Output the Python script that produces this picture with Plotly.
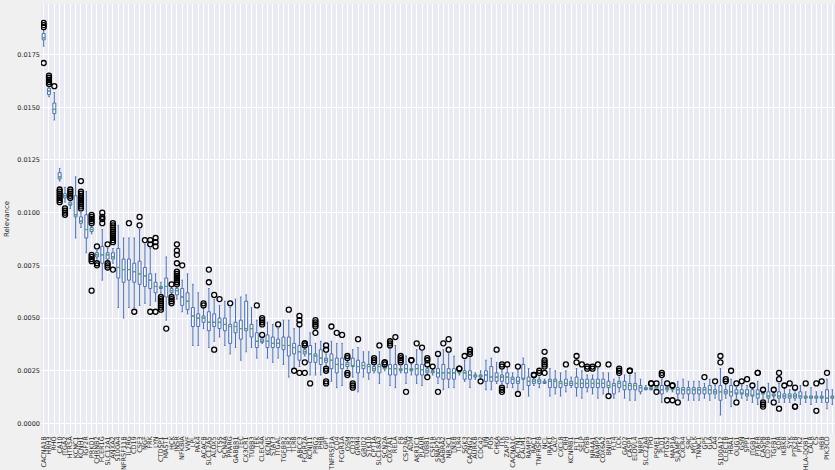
import plotly.graph_objects as go

genes = [
    "CACNA1B", "HRH3", "RHO", "CA10", "ITGA2", "HTR5A", "KCNC1", "KCNH1", "IGF2R", "PRKD1",
    "CHRNB2", "FCER1G", "SLC12A1", "ANXA2", "S100A4", "TNFRSF11B", "IL2RG", "CD19", "CSF3", "NGF",
    "FRK", "LYN", "CTDSP1", "MAST1", "HCK", "INSR", "NFKBIA", "VWF", "LPL", "PAK4",
    "ACACB", "SLC12A5", "ALOX5", "CTSS", "SCN4A", "PPARG", "GABBR1", "TEC", "CX3CR1", "TUBB3",
    "TEK", "CLEC4A", "KCNJ5", "STAT3", "ITGAL", "TGFBR2", "TLR2", "TLR8", "ABCC3", "FCGR2A",
    "KCNJ11", "PRG2", "PHB", "GPT", "TNFRSF1A", "CD4", "FCGR1A", "OSM", "CD33", "GRM4",
    "GRID2", "STK10", "CPT1A", "SLC18A3", "SCN2A", "COX7A1", "RELA", "F8", "CSF2RA", "ADM",
    "AKR1C1", "PLAUR", "TUBB1", "CSF1R", "SNAP25", "GABRA2", "NR3C1", "TNXB", "TLR4", "SGK3",
    "CACNG2", "AURKB", "CDC42", "JUN", "FOS", "CHKA", "ITK", "ZAP70", "CACNA1C", "ACTN1",
    "CALM1", "RAMP3", "RAC1", "TNFRSF8", "NCL", "IRAK1", "CALY", "CXCL8", "CRH", "KCNMB1",
    "FLT1", "SELP", "CYBB", "NR4A1", "RAMP2", "COX6A2", "BNIP1", "FLT4", "LCK", "GAD2",
    "CASP1", "ELOVL4", "NRP1", "SLC22A4", "TPO", "PSME1", "PLD1", "PTGS2", "MAP1A", "SLAMF7",
    "CXCR4", "SRC", "MYLK", "TNNC1", "GP5", "GLA", "CA4", "S100A12", "CLEC1B", "HBA1",
    "OLIG1", "GSN", "SPP1", "ITGB1", "PTAFR", "CASP8", "CD79B", "TGFB1", "KDR", "IKBKB",
    "SYK", "PTK2B", "PTK2", "HLA-DQB1", "CALR", "CS", "HBB", "PIK3CD", "CAMK2A",
]

median = [
    .0183, .01577, .0149, .0117, .0108, .0104, .0099, .0096, .0092, .0092,
    .0080, .0080, .0080, .0079, .0074, .0073, .0073, .0072, .0071, .0070,
    .0068, .0065, .00645, .0065, .0063, .0063, .0060, .0058, .0051, .0050,
    .0050, .0048, .0048, .0048, .0047, .0046, .0046, .0045, .0045, .0045,
    .0039, .0039, .0039, .0038, .0038, .0037, .0037, .0036, .0034, .0034,
    .0033, .0032, .0031, .0030, .0030, .0028, .0028, .0028, .00275, .0027,
    .00275, .0027, .0026, .0027, .0026, .0026, .0026, .0026, .0026, .0026,
    .0026, .00255, .0025, .0025, .0024, .0024, .0024, .0024, .0024, .0024,
    .0023, .0023, .0023, .0023, .0022, .0022, .0022, .0022, .0021, .0020,
    .0021, .0020, .0020, .0020, .0020, .0020, .0020, .0019, .0019, .0019,
    .0019, .0019, .0019, .0019, .0019, .0019, .0018, .0018, .0019, .0018,
    .0018, .0018, .0017, .0017, .0017, .0017, .0016, .0016, .0016, .0016,
    .0016, .0016, .0016, .0016, .0016, .0016, .0015, .0015, .0015, .0015,
    .0014, .0014, .0014, .0013, .0014, .0014, .0013, .0013, .0013, .0013,
    .0013, .0013, .0013, .0012, .0012, .0012, .0012, .0012, .0012,
]

q1 = [
    .0182, .0156, .0147, .0116, .0107, .01035, .0098, .0095, .0088, .0091,
    .0079, .0076, .0078, .0078, .0069, .0067, .0068, .0067, .0066, .0065,
    .0064, .0062, .0064, .0060, .0062, .0061, .0056, .0054, .0046, .0046,
    .0048, .0044, .0046, .0045, .0044, .0038, .0043, .0040, .0044, .0041,
    .0036, .00385, .0036, .0036, .0036, .0035, .0032, .0033, .0030, .0033,
    .0029, .0029, .0028, .0029, .0026, .0024, .0026, .0027, .0027, .0024,
    .0026, .0024, .0025, .0024, .0026, .0023, .0023, .0025, .0024, .0025,
    .0023, .0023, .0024, .0024, .0022, .0021, .0021, .0021, .0024, .0021,
    .0021, .0022, .0022, .0020, .0020, .0020, .0020, .0019, .0019, .0019,
    .0021, .0018, .0019, .0019, .0019, .0017, .0017, .0017, .0018, .0018,
    .0017, .0017, .0017, .0017, .0017, .0017, .0017, .0014, .0017, .0016,
    .0016, .0016, .0015, .0016, .0016, .0016, .0014, .0016, .0016, .0014,
    .0014, .0014, .0014, .0014, .0014, .0014, .0014, .0011, .0014, .0013,
    .0014, .0014, .0013, .0013, .0012, .0014, .0012, .0013, .0012, .0012,
    .0012, .0012, .0012, .0012, .0012, .0012, .0012, .0010, .0012,
]

q3 = [
    .0185, .0159, .0152, .0119, .0109, .0105, .0108, .0098, .0099, .0093,
    .0081, .0084, .0081, .0081, .0083, .0078, .0078, .0076, .0077, .0074,
    .0071, .0067, .0065, .0069, .0064, .0064, .0064, .0062, .0055, .0052,
    .0051, .0053, .0052, .0050, .0050, .0047, .0048, .0049, .0058, .0047,
    .0043, .0040, .0042, .0041, .0040, .0041, .0041, .0038, .0037, .0035,
    .0037, .0033, .0035, .0031, .0033, .0031, .0031, .0029, .0031, .0030,
    .0029, .0028, .0027, .0028, .0027, .0028, .0028, .0026, .0028, .0026,
    .0028, .0028, .0026, .0025, .0026, .0028, .0026, .0026, .0025, .0025,
    .0025, .0023, .0023, .0025, .0027, .0024, .0023, .0024, .0022, .0022,
    .0028, .0022, .0021, .0021, .0020, .0021, .0021, .0020, .0021, .0020,
    .0022, .0021, .0021, .0021, .0021, .0021, .0020, .0019, .0020, .0020,
    .0019, .0019, .0018, .0017, .0017, .0018, .0018, .0017, .0017, .0017,
    .0017, .0017, .0017, .0017, .0017, .0018, .0016, .0018, .0016, .0018,
    .0016, .0016, .0016, .0016, .0016, .0015, .0015, .0014, .0015, .0014,
    .0014, .0014, .0015, .0013, .0013, .0013, .0013, .0016, .0013,
]

whisker_low = [
    .0179, .0155, .0144, .0115, .0105, .0102, .0088, .0093, .0081, .0090,
    .0078, .0068, .0077, .0076, .0055, .0050, .0055, .0055, .0056, .0057,
    .0056, .0058, .0062, .0049, .0061, .0059, .0053, .0052, .0037, .0037,
    .0045, .0036, .0039, .0041, .0037, .0033, .0036, .0030, .0034, .0036,
    .0031, .0038, .0031, .0029, .0031, .0028, .0022, .0026, .0027, .0032,
    .0023, .0023, .0023, .0027, .0020, .0017, .0018, .0026, .0022, .0015,
    .0022, .0021, .0024, .0019, .0025, .0018, .0017, .0024, .0019, .0023,
    .0019, .0018, .0023, .0023, .0019, .0016, .0017, .0017, .0023, .0020,
    .0017, .0021, .0021, .0016, .0016, .0019, .0019, .0017, .0017, .0015,
    .0016, .0013, .0018, .0017, .0019, .0013, .0014, .0013, .0015, .0017,
    .0013, .0012, .0015, .0014, .0012, .0014, .0014, .0012, .0015, .0012,
    .0011, .0011, .0014, .0016, .0016, .0016, .0010, .0015, .0015, .0012,
    .0012, .0011, .0011, .0011, .0012, .0011, .0012, .0004, .0012, .0008,
    .0012, .0012, .0011, .0010, .0009, .0012, .0010, .0012, .0010, .0010,
    .0010, .0011, .0009, .0010, .0009, .0010, .0010, .0007, .0009,
]

whisker_high = [
    .0187, .0160, .0157, .0121, .0112, .0106, .0117, .0100, .0110, .0094,
    .0082, .0092, .0083, .0083, .0094, .0088, .0088, .0088, .0092, .0085,
    .0083, .0071, .0067, .0079, .0065, .0065, .0068, .0071, .0066, .0062,
    .0055, .0064, .0059, .0056, .0058, .0055, .0059, .0060, .0061, .0055,
    .0049, .0041, .0048, .0047, .0045, .0049, .0049, .0045, .0046, .0036,
    .0043, .0038, .0039, .0033, .0039, .0038, .0038, .0030, .0035, .0036,
    .0034, .0034, .0028, .0034, .0027, .0036, .0037, .0027, .0032, .0028,
    .0035, .0034, .0027, .0026, .0032, .0035, .0033, .0032, .0025, .0030,
    .0032, .0024, .0025, .0030, .0031, .0029, .0025, .0027, .0024, .0025,
    .0031, .0026, .0022, .0022, .0021, .0026, .0025, .0024, .0025, .0022,
    .0026, .0025, .0023, .0023, .0026, .0024, .0024, .0021, .0022, .0023,
    .0023, .0024, .0021, .0018, .0018, .0018, .0021, .0018, .0017, .0020,
    .0021, .0020, .0020, .0020, .0019, .0021, .0018, .0026, .0019, .0021,
    .0017, .0018, .0018, .0017, .0020, .0015, .0019, .0015, .0019, .0017,
    .0016, .0016, .0018, .0015, .0017, .0015, .0015, .0021, .0016,
]

outliers = [
    [.0171, .0188, .0189, .0190], [.0161, .0162, .0163, .0164, .0165], [.0160],
    [.0105, .0106, .0107, .0108, .0109, .0110, .0111], [.0099, .0100, .0101, .0102],
    [.0107, .0108, .0109, .0110, .0111], [],
    [.0102, .0103, .0104, .0105, .0106, .0107, .0108, .0109, .0110, .0115], [],
    [.0095, .0096, .0097, .0098, .0099, .0077, .0078, .0079, .0080, .0063],
    # 11-20
    [.0084, .0076, .0075], [.0095, .0097, .0098, .0100], [.0085, .0076, .0075, .0074],
    [.0086, .0087, .0088, .0089, .0090, .0091, .0092, .0093, .0094, .0095, .0073],
    [], [], [.0095], [.0053], [.0094, .0098], [.0087],
    # 21-30
    [.0085, .0087, .0053], [.0084, .0086, .0088, .0053],
    [.0054, .0055, .0056, .0057, .0058, .0059, .0060], [.0045],
    [.0066, .0057, .0058, .0059, .0060],
    [.0066, .0067, .0068, .0069, .0070, .0071, .0072, .0076, .0080, .0082, .0085],
    [.0075], [], [], [],
    # 31-40
    [.0056, .0057], [.0067, .0073], [.0061, .0035], [.0059], [], [.0057], [], [], [], [],
    # 41-50
    [.0056], [.0042, .0047, .0048, .0049, .0050], [], [], [.0047], [], [.0054], [.0025],
    [.0047, .0049, .0051, .0024], [.0037, .0038, .0038, .0029, .0024],
    # 51-60
    [.0019], [.0043, .0046, .0047, .0048, .0049], [], [.0035, .0037, .0025, .0026, .0019, .0020],
    [.0046], [.0043], [.0042], [.0031, .0032, .0023, .0024], [.0017, .0018, .0019], [.0040],
    # 61-70
    [], [], [.0029, .0030, .0031], [.0037], [.0028, .0029, .0029], [.0037, .0038, .0039],
    [.0041], [.0029, .0030, .0031, .0032], [.0015], [.0030, .0030],
    # 71-80
    [.0038], [.0036], [.0028, .0030, .0031, .0022], [.0027], [.0033, .0015], [.0038],
    [.0035, .0040], [], [.0026, .0026], [.0032],
    # 81-90
    [.0033, .0034, .0035], [], [.0020], [], [], [.0035], [.0027, .0028, .0017, .0015, .0016],
    [.0028], [], [.0027, .0014],
    # 91-100
    [], [], [.0023, .0023], [.0024, .0025], [.0024, .0027, .0028, .0029, .0030, .0034],
    [], [], [], [.0028], [],
    # 101-110
    [.0029, .0032], [.0028], [.0026, .0027], [.0026, .0027], [.0028], [], [.0028, .0013],
    [], [.0024, .0025, .0026], [],
    # 111-120
    [.0025, .0025], [], [], [], [.0019, .0019], [.0019, .0015], [.0023, .0024],
    [.0019, .0011], [.0018, .0018, .0011], [.0010],
    # 121-130
    [], [], [], [], [.0022], [], [.0020], [.0029, .0032], [.0020, .0021], [.0025],
    # 131-140
    [.0019, .0010], [.0020], [.0021], [.0018], [.0024, .0024], [.0016, .0008, .0009, .0010],
    [], [.0016, .0010], [.0021, .0024, .0007], [.0018],
    # 141-149
    [.0019], [.0017, .0008, .0008], [], [.0019], [], [.0019, .0006], [.0020], [.0024], [],
]

y_ticks = [0.0, 0.0025, 0.005, 0.0075, 0.01, 0.0125, 0.015, 0.0175]

n = len(genes)
pos = list(range(1, n + 1))

fig = go.Figure()

fig.add_trace(go.Box(
    x=pos, q1=q1, median=median, q3=q3,
    lowerfence=whisker_low, upperfence=whisker_high,
    width=0.55, whiskerwidth=0.5, boxpoints=False,
    line=dict(color="#4C72B0", width=1),
    fillcolor="rgba(0,0,0,0)", showlegend=False, hoverinfo="skip",
))

mx, my = [], []
for p, m in zip(pos, median):
    mx += [p - 0.27, p + 0.27, None]
    my += [m, m, None]
fig.add_trace(go.Scatter(x=mx, y=my, mode="lines",
                         line=dict(color="#55A868", width=1.2),
                         showlegend=False, hoverinfo="skip"))

ox, oy = [], []
for p, outs in zip(pos, outliers):
    for v in outs:
        ox.append(p)
        oy.append(v)
fig.add_trace(go.Scatter(x=ox, y=oy, mode="markers",
                         marker=dict(symbol="circle-open", size=5, color="black",
                                     line=dict(width=1.3, color="black")),
                         showlegend=False, hoverinfo="skip"))

fig.update_layout(
    width=835, height=470,
    margin=dict(l=41, r=0, t=4, b=36),
    paper_bgcolor="#f0f0f0",
    plot_bgcolor="#EAEAF2",
    font=dict(family="DejaVu Sans", size=7, color="#262626"),
    xaxis=dict(
        range=[0.5, n + 0.5], tickmode="array", tickvals=pos, ticktext=genes,
        tickangle=-90, tickfont=dict(size=6.5, color="#262626"),
        showgrid=True, gridcolor="white", gridwidth=1, zeroline=False,
        showline=False, ticks="", automargin=False,
    ),
    yaxis=dict(
        range=[-0.0005, 0.0199], tickmode="array", tickvals=y_ticks,
        tickformat=".4f", tickfont=dict(size=6.5, color="#262626"),
        showgrid=True, gridcolor="white", gridwidth=1, zeroline=False,
        showline=False, ticks="", automargin=False,
        title=dict(text="Relevance", font=dict(size=7, color="#262626"), standoff=6),
    ),
)

fig.write_html(
    "out.html",
    config={"displayModeBar": False, "staticPlot": True},
    post_script="document.body.style.margin='0px';document.body.style.overflow='hidden';",
)
